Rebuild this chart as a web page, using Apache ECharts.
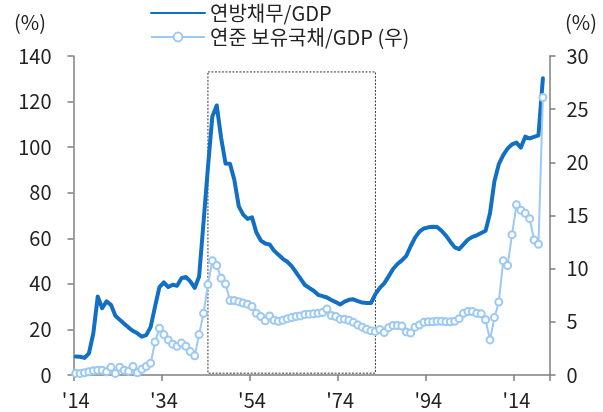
<!DOCTYPE html>
<html>
<head>
<meta charset="utf-8">
<script src="https://cdn.jsdelivr.net/npm/echarts@6/dist/echarts.min.js"></script>
<style>
  html, body { margin: 0; padding: 0; background: #ffffff; }
  #chart { width: 603px; height: 412px; }
</style>
</head>
<body>
<div id="chart"></div>
<script>
// Annual series, 1914-2020 (the axis runs one extra year past the data).
const FIRST_YEAR = 1914;
const LAST_AXIS_YEAR = 2021;
const years = [];
for (let y = FIRST_YEAR; y <= LAST_AXIS_YEAR; y++) years.push(String(y));

// Federal debt as % of GDP (left axis)
const debtToGdp = [
  8.1, 8.0, 7.5, 9.5, 18.3, 34.5, 29.3, 32.3, 30.8, 26.0,   // 1914-1923
  24.2, 22.5, 20.8, 19.3, 18.3, 16.8, 17.5, 21.0, 30.0, 38.6, // 1924-1933
  40.6, 38.6, 39.6, 39.2, 42.5, 43.0, 41.1, 38.2, 43.2, 67.0, // 1934-1943
  91.0, 113.5, 118.3, 104.0, 92.8, 92.7, 85.6, 74.0, 70.4, 68.5, // 1944-1953
  69.2, 62.5, 59.0, 57.7, 57.3, 54.6, 52.8, 51.0, 49.7, 47.8, // 1954-1963
  45.0, 42.3, 39.5, 38.2, 37.0, 35.2, 34.6, 34.0, 32.9, 32.0, // 1964-1973
  30.9, 32.2, 33.0, 33.2, 32.4, 31.8, 31.6, 31.6, 35.5, 38.2, // 1974-1983
  40.2, 43.3, 46.5, 48.7, 50.3, 52.3, 56.5, 60.3, 62.9, 64.3, // 1984-1993
  64.8, 65.1, 65.0, 63.3, 61.2, 58.5, 56.0, 55.2, 57.3, 59.4, // 1994-2003
  60.6, 61.3, 62.3, 63.3, 71.0, 85.0, 92.5, 96.5, 99.4, 101.2, // 2004-2013
  102.0, 99.8, 104.6, 103.8, 104.5, 105.2, 130.2             // 2014-2020
];

// Treasuries held by the Fed as % of GDP (right axis)
const fedTreasuryToGdp = [
  0.15, 0.15, 0.2, 0.3, 0.4, 0.45, 0.45, 0.3, 0.72, 0.15,    // 1914-1923
  0.72, 0.45, 0.35, 0.8, 0.2, 0.53, 0.8, 1.1, 3.1, 4.4,      // 1924-1933
  3.8, 3.3, 2.9, 2.7, 3.0, 2.7, 2.2, 1.8, 3.8, 5.8,          // 1934-1943
  8.5, 10.75, 10.3, 9.1, 8.55, 7.0, 7.0, 6.9, 6.76, 6.66,    // 1944-1953
  6.44, 5.8, 5.5, 5.1, 5.55, 5.15, 5.05, 5.15, 5.3, 5.4,     // 1954-1963
  5.5, 5.56, 5.7, 5.72, 5.75, 5.8, 5.88, 6.2, 5.6, 5.5,      // 1964-1973
  5.25, 5.25, 5.15, 4.95, 4.7, 4.5, 4.3, 4.15, 4.1, 4.28,    // 1974-1983
  4.0, 4.45, 4.65, 4.65, 4.6, 4.05, 3.95, 4.5, 4.7, 4.95,    // 1984-1993
  5.0, 5.0, 5.05, 5.05, 5.0, 5.0, 5.05, 5.3, 5.8, 5.97,      // 1994-2003
  5.97, 5.8, 5.75, 5.2, 3.3, 5.4, 6.86, 10.75, 10.3, 13.2,   // 2004-2013
  16.0, 15.5, 15.2, 14.7, 12.7, 12.3, 26.1                   // 2014-2020
];

// Axis scales
const leftAxis = { min: 0, max: 140, step: 20 };
const rightAxis = { min: 0, max: 30, step: 5 };
const X_LABEL_EVERY = 20; // years between x-axis ticks

// Highlighted period (dotted box), in data units of the left axis
const boxYears = ['1944', '1982'];
const boxValues = [133, 0.8];

const seriesNames = ['연방채무/GDP', '연준 보유국채/GDP (우)'];
const unitLabel = '(%)';

const FONT = '"Noto Sans CJK KR", "Noto Sans", sans-serif';
const TEXT = '#222222';
const AXIS = '#7f7f7f';
const DEBT_BLUE = '#1170c4';
const FED_BLUE = '#9cc9f3';

const chart = echarts.init(document.getElementById('chart'), null, { renderer: 'canvas' });

const yAxisCommon = {
  type: 'value',
  splitLine: { show: false },
  axisLine: { show: true, lineStyle: { color: AXIS, width: 1.5 } },
  axisTick: { show: true, inside: false, length: 6, lineStyle: { color: AXIS, width: 1.5 } },
  axisLabel: { color: TEXT, fontSize: 20, fontFamily: FONT }
};

chart.setOption({
  animation: false,
  backgroundColor: '#ffffff',
  textStyle: { fontFamily: FONT },
  grid: { left: 73.5, right: 53.5, top: 56, bottom: 37, containLabel: false },
  legend: {
    orient: 'vertical',
    left: 150,
    top: 2,
    padding: 0,
    itemWidth: 54,
    itemHeight: 11,
    itemGap: 2,
    data: [
      // the debt line is drawn without markers, so its key is a plain line
      { name: seriesNames[0], itemStyle: { opacity: 0 } },
      { name: seriesNames[1] }
    ],
    textStyle: { color: TEXT, fontSize: 20, fontFamily: FONT, lineHeight: 22 }
  },
  graphic: [
    { type: 'text', left: 14, top: 12, style: { text: unitLabel, font: '20px ' + FONT, fill: TEXT } },
    { type: 'text', left: 565, top: 12, style: { text: unitLabel, font: '20px ' + FONT, fill: TEXT } }
  ],
  xAxis: {
    type: 'category',
    data: years,
    boundaryGap: true,
    axisLine: { show: true, lineStyle: { color: AXIS, width: 1.5 } },
    axisTick: { show: true, interval: X_LABEL_EVERY - 1, length: 6, lineStyle: { color: AXIS, width: 1.5 } },
    axisLabel: {
      interval: X_LABEL_EVERY - 1,
      margin: 15,
      color: TEXT,
      fontSize: 20,
      fontFamily: FONT,
      formatter: v => "'" + v.slice(2)
    },
    splitLine: { show: false }
  },
  yAxis: [
    Object.assign({}, yAxisCommon, {
      position: 'left', min: leftAxis.min, max: leftAxis.max, interval: leftAxis.step,
      axisLabel: Object.assign({}, yAxisCommon.axisLabel, { margin: 22 })
    }),
    Object.assign({}, yAxisCommon, {
      position: 'right', min: rightAxis.min, max: rightAxis.max, interval: rightAxis.step,
      axisLabel: Object.assign({}, yAxisCommon.axisLabel, { margin: 17 })
    })
  ],
  series: [
    {
      name: seriesNames[0],
      type: 'line',
      yAxisIndex: 0,
      data: debtToGdp,
      symbol: 'circle',
      showSymbol: false,
      z: 3,
      lineStyle: { color: DEBT_BLUE, width: 4, cap: 'round', join: 'round' },
      itemStyle: { color: DEBT_BLUE },
      markArea: {
        silent: true,
        itemStyle: {
          color: 'rgba(0,0,0,0)',
          borderColor: '#333333',
          borderWidth: 1,
          borderType: [2, 1.5]
        },
        data: [[
          { xAxis: boxYears[0], yAxis: boxValues[0] },
          { xAxis: boxYears[1], yAxis: boxValues[1] }
        ]]
      }
    },
    {
      name: seriesNames[1],
      type: 'line',
      yAxisIndex: 1,
      data: fedTreasuryToGdp,
      symbol: 'circle',
      symbolSize: 7,
      showAllSymbol: true,
      z: 4,
      lineStyle: { color: FED_BLUE, width: 2 },
      itemStyle: { color: '#ffffff', borderColor: FED_BLUE, borderWidth: 2 }
    }
  ]
});
</script>
</body>
</html>
